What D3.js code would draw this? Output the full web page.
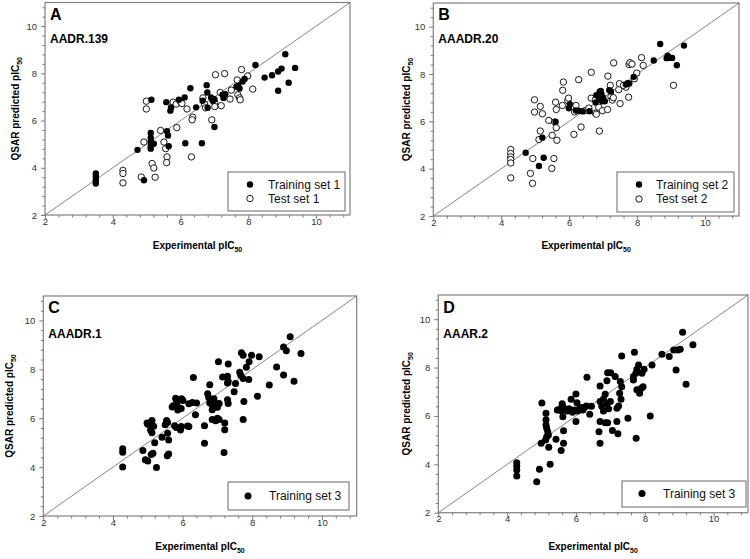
<!DOCTYPE html>
<html><head><meta charset="utf-8">
<script src="https://cdn.jsdelivr.net/npm/d3@7"></script>
<style>body{margin:0;background:#fff}svg{display:block}</style>
</head><body>
<svg id="c" width="750" height="559"></svg>
<script>
// ---- data ----
const trainA = [[3.5,3.76],[3.5,3.63],[3.5,3.5],[3.5,3.4],[3.5,3.33],[4.73,4.76],[4.92,3.47],
[5.12,5.47],[5.12,5.27],[5.12,5.12],[5.12,4.91],[5.12,4.81],[5.21,5.02],[5.14,6.88],
[5.6,5.55],[5.63,5.37],[5.65,4.91],[5.58,6.78],[5.70,6.42],[5.72,6.55],
[5.95,6.88],[6.12,6.98],[6.14,5.04],[6.29,7.37],[6.46,6.56],
[6.63,5.04],[6.65,6.84],[6.77,7.5],[6.79,7.19],[6.8,6.54],[6.9,6.98],[6.95,6.84],[7.0,5.73],[7.0,6.9],
[7.24,7.09],[7.27,6.96],[7.32,7.12],[7.65,7.43],[7.7,7.47],[7.74,7.36],[7.83,7.65],[7.89,7.76],
[8.21,8.35],[8.48,7.82],[8.7,7.92],[8.88,7.26],[8.88,8.08],[8.98,8.2],[9.09,8.81],[9.19,7.6],[9.38,8.23]];
const testA = [[4.3,3.89],[4.3,3.76],[4.3,3.36],[4.84,3.61],[4.92,5.09],[4.99,6.82],[4.99,6.49],
[5.16,4.18],[5.21,3.99],[5.25,3.6],[5.41,5.58],[5.51,5.09],[5.56,4.81],[5.6,4.46],[5.59,4.22],
[5.78,6.78],[5.87,6.7],[5.89,5.7],[6.0,6.8],[6.04,6.72],[6.19,6.49],[6.36,6.14],[6.34,6.03],[6.32,4.46],
[6.66,6.96],[6.71,6.7],[6.74,6.54],[6.92,6.03],[7.0,6.77],[7.01,6.59],[7.03,7.94],[7.2,6.63],[7.17,7.19],[7.3,7.99],
[7.46,6.91],[7.5,7.29],[7.67,7.72],[7.69,7.09],[7.74,6.96],[7.76,6.88],[7.8,8.16],[7.98,7.89],[8.13,7.33]];
const trainB = [[4.72,4.67],[5.11,4.11],[5.25,4.46],[5.21,5.31],[5.6,5.98],
[5.99,6.55],[6.02,6.72],[6.2,6.46],[6.3,6.44],[6.4,6.42],[6.6,6.43],
[6.78,6.8],[6.8,7.1],[6.88,7.0],[6.9,7.25],[6.95,7.15],[6.97,6.85],[7.0,7.0],[7.05,6.85],[6.93,7.28],
[7.18,7.32],[7.23,7.26],[7.67,7.56],[7.72,7.61],[7.77,7.6],[7.9,7.88],
[8.49,8.57],[8.68,9.27],[8.87,8.67],[8.9,8.77],[8.97,8.68],[9.03,8.68],[9.17,8.37],[9.38,9.2]];
const testB = [[4.28,4.81],[4.28,4.64],[4.28,4.5],[4.28,4.39],[4.28,4.24],[4.28,3.61],[4.86,3.8],[4.92,3.38],[4.93,4.43],
[4.98,6.91],[4.98,6.39],[5.11,5.23],[5.15,6.63],[5.15,5.59],[5.21,6.32],[5.4,6.04],[5.49,4.01],[5.5,5.41],[5.55,4.43],
[5.57,5.97],[5.6,6.81],[5.62,6.5],[5.62,5.73],[5.64,5.2],[5.8,6.67],[5.81,7.31],[5.83,7.66],[5.96,6.88],[5.98,6.98],
[6.14,5.45],[6.16,6.4],[6.2,6.67],[6.28,7.76],[6.35,5.76],[6.48,6.46],[6.58,6.56],[6.65,8.07],[6.65,6.98],[6.77,6.91],[6.77,6.35],[6.8,6.3],
[6.87,6.6],[6.89,5.59],[6.98,6.45],[7.13,6.5],[7.14,7.91],[7.21,7.52],[7.23,7.05],[7.27,6.9],[7.31,8.47],[7.3,7.0],
[7.46,7.34],[7.48,7.59],[7.5,6.75],[7.67,7.44],[7.6,7.52],[7.75,7.02],[7.76,8.4],[7.79,8.48],[7.85,8.42],[7.92,7.8],[7.99,8.04],
[8.13,8.69],[8.18,8.36],[9.07,7.52]];
const trainC = [[4.28,4.75],[4.28,4.61],[4.28,4.0],[4.86,4.68],[4.93,4.3],[5.0,4.25],[5.25,3.98],[5.15,4.57],[5.1,4.52],
[5.2,5.0],[5.41,5.22],[5.08,5.52],[5.12,5.41],[4.98,5.8],[5.12,5.91],[5.17,5.67],[5.0,5.75],
[5.57,5.39],[5.6,5.11],[5.6,4.54],[5.56,4.46],[5.5,5.73],[5.57,5.82],[5.77,5.69],[5.82,5.62],[5.96,5.66],[5.94,5.52],
[5.86,6.34],[5.54,5.91],[5.8,6.82],[5.82,6.75],[5.97,6.8],[6.01,6.72],[5.73,6.51],[5.84,6.59],[5.96,6.4],[5.7,6.46],
[6.14,5.68],[6.18,5.66],[6.18,6.59],[6.28,6.64],[6.4,6.62],[6.37,6.14],[6.31,7.67],[6.63,5.69],[6.63,4.98],
[6.78,7.37],[6.72,7.0],[6.75,6.85],[6.8,6.7],[6.85,6.55],[6.9,6.45],[6.95,6.6],[7.0,6.45],[7.05,6.6],[6.9,6.8],[6.85,6.35],[6.78,6.62],
[6.95,5.9],[7.0,6.0],[7.05,5.95],[6.85,5.95],
[7.03,8.31],[7.15,7.69],[7.29,7.72],[7.31,7.51],[7.29,7.44],[7.29,6.76],[7.31,6.6],[7.21,5.8],[7.21,5.53],[7.19,4.6],[7.31,8.22],
[7.48,7.08],[7.52,7.42],[7.64,7.88],[7.67,7.76],[7.69,8.68],[7.74,8.58],[7.74,7.62],[7.76,6.68],[7.74,5.95],[7.83,8.09],[7.9,7.58],[7.91,8.31],[7.98,8.58],
[8.15,6.9],[8.2,8.51],[8.49,7.36],[8.7,8.1],[8.9,7.77],[8.9,8.91],[8.98,8.76],[9.09,9.33],[9.2,7.51],[9.4,8.65]];
const trainD = [[4.28,4.07],[4.28,3.93],[4.28,3.77],[4.28,3.52],[4.86,3.28],[4.94,3.8],[5.25,4.0],[4.99,4.87],[5.01,6.53],
[5.13,6.11],[5.13,5.84],[5.13,5.63],[5.15,5.49],[5.18,5.35],[5.2,5.21],[5.15,5.14],[5.12,5.01],[5.21,4.71],
[5.42,5.04],[5.64,4.87],[5.57,4.57],[5.64,5.39],[5.62,5.97],[5.6,6.5],[5.62,6.39],[5.58,6.2],[5.46,6.25],[5.55,6.3],
[5.75,6.2],[5.8,6.3],[5.86,6.69],[5.9,6.15],[5.95,6.25],[6.0,6.91],[6.0,5.77],[6.03,6.55],[6.05,6.2],[6.1,6.3],[6.15,6.35],[6.2,6.25],[6.25,6.35],[6.3,6.41],[6.32,7.6],[6.4,6.07],[6.45,6.4],
[6.67,5.35],[6.7,4.87],[6.7,5.77],[6.85,5.72],[6.92,5.72],[6.7,7.24],[6.7,6.6],[6.75,6.4],[6.8,6.2],[6.85,6.9],[6.9,6.5],[6.8,6.7],[6.95,6.3],[7.0,6.6],[6.9,7.46],[6.92,7.79],[7.01,7.79],[7.14,7.63],
[7.06,5.4],[7.22,5.26],[7.19,5.77],[7.19,6.32],[7.24,6.41],[7.31,6.69],[7.27,6.94],[7.33,7.21],[7.29,7.42],[7.33,8.48],[7.51,5.9],
[7.67,7.49],[7.67,7.63],[7.74,7.77],[7.77,7.93],[7.82,8.11],[7.7,8.63],[7.77,7.08],[7.85,6.94],[7.9,7.15],[7.95,7.21],[7.92,7.77],[7.98,7.93],[7.75,5.08],
[8.16,6.0],[8.21,8.11],[8.5,8.55],[8.71,8.46],[8.84,8.73],[8.91,7.9],[8.96,8.73],[9.03,8.76],[9.1,9.46],[9.2,7.31],[9.4,8.94]];
const majorTicks = [2,4,6,8,10];
const axisDomain = [2,11];
const panelLetters = ["A","B","C","D"];
const modelNames = ["AADR.139","AAADR.20","AAADR.1","AAAR.2"];
const legendA = ["Training set 1","Test set 1"];
const legendB = ["Training set 2","Test set 2"];
const legendC = ["Training set 3"];
const legendD = ["Training set 3"];

// ---- layout ----
const FONT = "'Liberation Sans', Arial, sans-serif";
const svg = d3.select("#c");
const panels = [
  {x:[45,350], y:[215,2.5], letter:panelLetters[0], name:modelNames[0], train:trainA, test:testA, legend:legendA,
   r:3.2, lg:{x:228,y:172,w:117,h:39,mx:250,tx:268,rows:[184.5,198.5]}, ytx:19, xty:249, capY:[20,43]},
  {x:[433.3,739], y:[216,3], letter:panelLetters[1], name:modelNames[1], train:trainB, test:testB, legend:legendB,
   r:3.2, lg:{x:617,y:172,w:117,h:40,mx:639,tx:656,rows:[184.5,199]}, ytx:410, xty:249, capY:[20,43]},
  {x:[43.3,356.7], y:[516,296], letter:panelLetters[2], name:modelNames[2], train:trainC, test:null, legend:legendC,
   r:3.5, lg:{x:228,y:482,w:121,h:28,mx:248,tx:269,rows:[496]}, ytx:13, xty:549.5, capY:[313,338]},
  {x:[438.3,748], y:[512.7,295], letter:panelLetters[3], name:modelNames[3], train:trainD, test:null, legend:legendD,
   r:3.5, lg:{x:622,y:481,w:124,h:26,mx:642,tx:663,rows:[493.5]}, ytx:410, xty:549.5, capY:[313,338]}
];

const minorTicks = d3.range(2, 11.001, 0.4).map(v=>+v.toFixed(1)).filter(v=>!majorTicks.includes(v));

panels.forEach(p => {
  const xs = d3.scaleLinear().domain(axisDomain).range(p.x);
  const ys = d3.scaleLinear().domain(axisDomain).range(p.y);
  const g = svg.append("g");
  const y0 = p.y[0], x0 = p.x[0];

  const xm = g.append("g").attr("transform",`translate(0,${y0})`)
    .call(d3.axisBottom(xs).tickValues(minorTicks).tickSize(2.5).tickFormat(""));
  const ym = g.append("g").attr("transform",`translate(${x0},0)`)
    .call(d3.axisLeft(ys).tickValues(minorTicks).tickSize(2.5).tickFormat(""));
  const xa = g.append("g").attr("transform",`translate(0,${y0})`)
    .call(d3.axisBottom(xs).tickValues(majorTicks).tickSize(4).tickPadding(-1).tickFormat(d3.format("d")));
  const ya = g.append("g").attr("transform",`translate(${x0},0)`)
    .call(d3.axisLeft(ys).tickValues(majorTicks).tickSize(4).tickPadding(4).tickFormat(d3.format("d")));
  [xm,ym,xa,ya].forEach(a=>{
    a.select(".domain").remove();
    a.selectAll("line").attr("stroke","#555").attr("stroke-width",0.8);
    a.selectAll("text").attr("fill","#333").style("font-family",FONT).style("font-size","9.5px");
  });

  g.append("rect").attr("x",xs(2)).attr("y",ys(11)).attr("width",xs(11)-xs(2)).attr("height",ys(2)-ys(11))
    .attr("fill","none").attr("stroke","#808080").attr("stroke-width",1.2);

  g.append("line").attr("x1",xs(2)).attr("y1",ys(2)).attr("x2",xs(11)).attr("y2",ys(11))
    .attr("stroke","#666").attr("stroke-width",0.8);

  if (p.test) {
    g.append("g").selectAll("circle").data(p.test).join("circle")
      .attr("cx",d=>xs(d[0])).attr("cy",d=>ys(d[1])).attr("r",p.r)
      .attr("fill","#fff").attr("stroke","#000").attr("stroke-width",0.9);
  }
  g.append("g").selectAll("circle").data(p.train).join("circle")
    .attr("cx",d=>xs(d[0])).attr("cy",d=>ys(d[1])).attr("r",p.r).attr("fill","#000");

  g.append("text").attr("x",x0+5).attr("y",p.capY[0]).text(p.letter)
    .style("font-family",FONT).style("font-size","16px").style("font-weight","bold");
  g.append("text").attr("x",x0+5).attr("y",p.capY[1]).text(p.name)
    .style("font-family",FONT).style("font-size","12px").style("font-weight","bold");

  const xt = g.append("text").attr("x",(p.x[0]+p.x[1])/2).attr("y",p.xty).attr("text-anchor","middle")
    .style("font-family",FONT).style("font-size","10px").style("font-weight","bold");
  xt.append("tspan").text("Experimental pIC");
  xt.append("tspan").attr("dy",3).style("font-size","7px").text("50");
  const yt = g.append("text").attr("transform",`translate(${p.ytx},${(p.y[0]+p.y[1])/2}) rotate(-90)`)
    .attr("text-anchor","middle").style("font-family",FONT).style("font-size","10px").style("font-weight","bold");
  yt.append("tspan").text("QSAR predicted pIC");
  yt.append("tspan").attr("dy",3).style("font-size","7px").text("50");

  const L = p.lg;
  g.append("rect").attr("x",L.x).attr("y",L.y).attr("width",L.w).attr("height",L.h)
    .attr("fill","#fff").attr("stroke","#808080").attr("stroke-width",1.2);
  p.legend.forEach((t,i)=>{
    const open = i===1;
    g.append("circle").attr("cx",L.mx).attr("cy",L.rows[i]).attr("r",p.r)
      .attr("fill",open?"#fff":"#000").attr("stroke","#000").attr("stroke-width",open?0.9:0);
    g.append("text").attr("x",L.tx).attr("y",L.rows[i]+4).text(t)
      .style("font-family",FONT).style("font-size","12px").attr("fill","#111");
  });
});
</script>
</body></html>
